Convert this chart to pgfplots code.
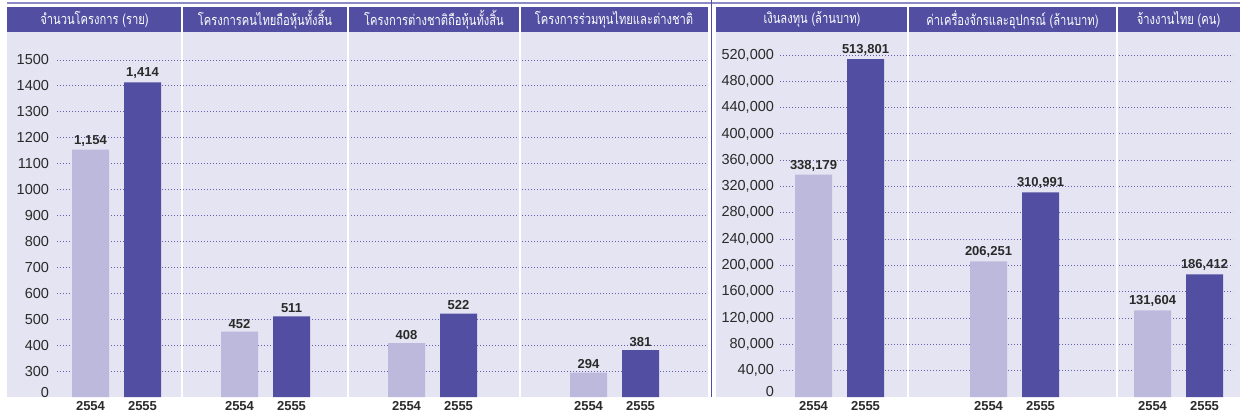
\documentclass[border=0pt]{standalone}
\usepackage{pgfplots}
\pgfplotsset{compat=1.18}
\usepackage{pgfplotstable}
\usepackage{fontspec}
\setmainfont{Liberation Sans}
\newfontfamily\thaifont[Script=Thai, FakeStretch=0.77]{Loma}
\definecolor{hdr}{HTML}{524EA2}
\definecolor{barD}{HTML}{524EA2}
\definecolor{barL}{HTML}{BDB9DC}
\definecolor{bgp}{HTML}{E5E4F2}
\definecolor{gridc}{HTML}{625EAE}
\definecolor{topl}{HTML}{8E8AC6}
\definecolor{txt}{HTML}{2A2A2A}

\pgfplotstableread{
x y
90.5 1154
239.5 452
406.5 408
588.5 294
}\leftA
\pgfplotstableread{
x y
142.5 1414
291.5 511
458.5 522
640.5 381
}\leftB
\pgfplotstableread{
x y
813.5 338179
988.5 206251
1152.5 131604
}\rightA
\pgfplotstableread{
x y
865.5 513801
1040.5 310991
1204.5 186412
}\rightB

\tikzset{gridl/.style={gridc, line width=0.9pt, dash pattern=on 1pt off 2pt}}
\pgfplotsset{
  panel/.style={
    scale only axis,
    anchor=south west,
    axis background/.style={fill=bgp},
    axis line style={draw=none},
    major tick length=0pt,
    tick style={draw=none},
    /pgf/number format/assume math mode=true,
    yticklabel style={anchor=east, font=\fontsize{14.5}{14.5}\selectfont, text=txt},
    xticklabel style={font=\bfseries\fontsize{13}{13}\selectfont, text=txt, yshift=-1pt},
  },
  bars/.style={ybar, bar shift=0pt, bar width=37, draw=none, fill=#1,
    nodes near coords,
    nodes near coords style={font=\bfseries\fontsize{13}{13}\selectfont, text=txt,
      /pgf/number format/.cd, fixed, precision=0, 1000 sep={,}, assume math mode=true}},
}

\begin{document}
\begin{tikzpicture}[x=1pt,y=1pt]
\useasboundingbox (0,0) rectangle (1247,418);
\fill[white] (0,0) rectangle (1247,418);

% left panel
\begin{axis}[panel,
  at={(7pt,21pt)}, width=701pt, height=365pt,
  xmin=7, xmax=708, ymin=200, ymax=1608,
  ytick={219,300,400,500,600,700,800,900,1000,1100,1200,1300,1400,1500},
  yticklabels={0,300,400,500,600,700,800,900,1000,1100,1200,1300,1400,1500},
  yticklabel style={xshift=45.5pt},
  xtick={90.5,142.5,239.5,291.5,406.5,458.5,588.5,640.5},
  xticklabels={2554,2555,2554,2555,2554,2555,2554,2555},
]
\pgfplotsinvokeforeach{300,400,500,600,700,800,900,1000,1100,1200,1300,1400,1500}{
  \draw[gridl] (axis cs:57,#1) -- (axis cs:706,#1);
}
\addplot[bars=barL] table[x=x,y=y] {\leftA};
\addplot[bars=barD] table[x=x,y=y] {\leftB};
\end{axis}

% right panel
\begin{axis}[panel,
  at={(716pt,21pt)}, width=524pt, height=365pt,
  xmin=716, xmax=1240, ymin=0, ymax=554970,
  ytick={7600,40000,80000,120000,160000,200000,240000,280000,320000,360000,400000,440000,480000,520000},
  yticklabels={0,{40,00},{80,000},{120,000},{160,000},{200,000},{240,000},{280,000},{320,000},{360,000},{400,000},{440,000},{480,000},{520,000}},
  yticklabel style={xshift=61.5pt},
  xtick={813.5,865.5,988.5,1040.5,1152.5,1204.5},
  xticklabels={2554,2555,2554,2555,2554,2555},
]
\pgfplotsinvokeforeach{40000,80000,120000,160000,200000,240000,280000,320000,360000,400000,440000,480000,520000}{
  \draw[gridl] (axis cs:780,#1) -- (axis cs:1233,#1);
}
\addplot[bars=barL] table[x=x,y=y] {\rightA};
\addplot[bars=barD] table[x=x,y=y] {\rightB};
\end{axis}

% headers
\fill[hdr] (7,386) rectangle (708,411);
\fill[hdr] (716,386) rectangle (1240,411);
\foreach \xx in {182,348,520,908,1117}{
  \draw[white, line width=1.5pt] (\xx,21) -- (\xx,411);
}
\draw[topl, line width=1.6pt] (7,414.7) -- (1240,414.7);
\draw[hdr, line width=1.3pt] (711.5,21) -- (711.5,418);

\begin{scope}[every node/.style={text=white, font=\thaifont\fontsize{14.5}{14.5}\selectfont, anchor=center, inner sep=0pt}]
\node at (94.5,398.5) {จำนวนโครงการ (ราย)};
\node at (265,398.5) {โครงการคนไทยถือหุ้นทั้งสิ้น};
\node at (434,398.5) {โครงการต่างชาติถือหุ้นทั้งสิ้น};
\node at (614,398.5) {โครงการร่วมทุนไทยและต่างชาติ};
\node at (812,398.5) {เงินลงทุน (ล้านบาท)};
\node at (1012.5,398.5) {ค่าเครื่องจักรและอุปกรณ์ (ล้านบาท)};
\node at (1178.5,398.5) {จ้างงานไทย (คน)};
\end{scope}
\end{tikzpicture}
\end{document}
